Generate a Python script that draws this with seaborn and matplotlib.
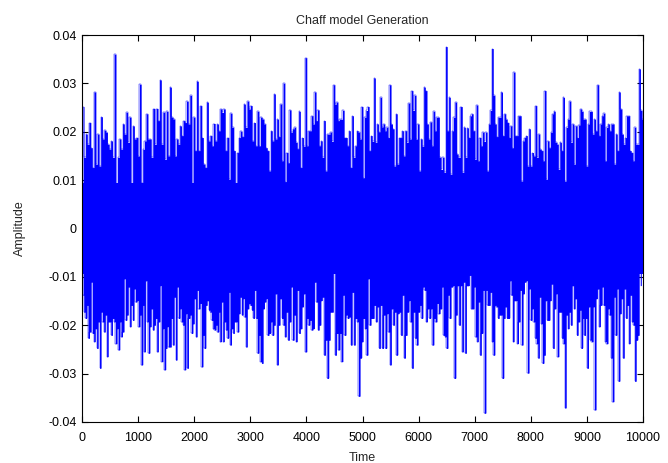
import matplotlib
matplotlib.use("Agg")
import matplotlib.pyplot as plt
import numpy as np
import seaborn as sns

# amplitude, in thousandths, peaks and notches of the
# upper and lower edge of the signal, three stretches each
upper_a = [25.2, 14.7, 19.5, 17.4, 21.9, 16.7, 12.6, 28.2, 13.3, 19.5, 12.9, 23.1, 18.5, 20.3, 19.9, 17.4,
           16.4, 18.1, 14.7, 36.0, 6.4, 14.7, 18.5, 16.4, 21.6, 19.5, 24.0, 17.8, 23.0, 8.4, 21.2, 18.5,
           18.8, 15.0, 29.8, 9.5, 16.4, 18.1, 23.7, 18.5, 18.5, 14.7, 24.8, 17.4, 24.8, 22.3, 30.7, 17.4,
           24.0, 14.3, 24.2, 15.0, 29.2, 23.0, 22.6, 15.0, 18.5, 17.4, 21.2, 19.2, 22.3, 21.9, 26.3, 21.6,
           27.5, 8.8, 23.0, 16.1, 30.4, 16.1, 25.4, 18.8, 13.3, 12.6, 26.1, 18.1, 19.2, 17.1, 21.7, 18.1,
           21.6, 20.2, 24.7, 24.0, 24.7, 16.1, 18.8, 10.2, 23.8, 20.9, 16.1, 8.4, 15.7, 18.8, 20.1, 19.0,
           25.7, 20.9, 26.3, 24.7, 25.4, 18.1, 21.9, 17.1, 24.2, 17.1, 23.0, 22.6, 21.6, 16.7, 16.1, 11.9]
upper_b = [20.2, 18.1, 27.8, 18.5, 22.6, 19.0, 25.7, 14.0, 30.0, 9.7, 15.7, 13.6, 24.5, 19.9, 20.6, 20.9,
           17.8, 16.5, 24.2, 12.6, 18.8, 17.0, 35.3, 17.1, 20.2, 20.2, 23.3, 21.6, 28.2, 22.3, 24.5, 17.1,
           18.1, 14.7, 22.3, 11.9, 19.5, 19.5, 19.9, 18.0, 29.7, 25.7, 26.1, 22.3, 22.6, 22.6, 24.4, 18.8,
           18.8, 17.1, 20.2, 12.6, 23.3, 14.7, 17.1, 20.2, 19.9, 18.5, 25.2, 10.5, 23.0, 24.4, 25.2, 16.1,
           19.2, 18.0, 31.1, 17.8, 21.6, 20.0, 27.1, 21.0, 21.6, 20.2, 20.9, 18.8, 29.7, 21.6, 20.6, 12.9,
           23.7, 13.3, 18.8, 18.8, 20.2, 15.0, 20.2, 17.8, 25.9, 18.5, 28.5, 24.4, 27.5, 18.5, 21.6, 11.9,
           18.5, 17.0, 29.2, 28.5, 21.6, 18.5, 22.0, 17.1, 24.2, 20.2, 23.0, 23.0, 14.7, 12.2, 14.7, 11.6,
           37.6, 20.2, 27.1, 11.2, 20.2, 23.0, 26.1, 15.4, 14.7]
upper_c = [25.2, 11.6, 20.9, 14.7, 20.8, 18.8, 23.3, 23.7, 20.2, 14.3, 25.5, 14.0, 18.8, 17.1, 19.9, 18.0,
           19.9, 11.9, 21.6, 24.4, 37.2, 27.5, 21.6, 19.0, 23.0, 23.0, 28.2, 19.2, 23.7, 22.6, 21.9, 18.8,
           21.2, 16.7, 32.3, 19.2, 19.2, 23.3, 23.3, 9.8, 18.1, 18.8, 19.2, 12.9, 20.6, 12.9, 15.7, 15.0,
           25.4, 14.7, 19.5, 16.4, 16.1, 14.0, 28.5, 10.2, 18.1, 16.7, 19.9, 23.7, 24.2, 17.8, 17.4, 12.2,
           17.8, 16.1, 27.1, 9.8, 20.9, 22.6, 26.3, 17.8, 21.6, 13.3, 21.2, 18.8, 21.4, 24.7, 24.2, 22.6,
           22.6, 12.9, 21.6, 24.2, 24.2, 19.5, 22.6, 20.2, 29.7, 19.2, 21.6, 23.3, 23.8, 14.0, 20.9, 21.6,
           20.2, 21.6, 21.6, 13.3, 19.5, 16.1, 28.2, 24.7, 19.5, 17.4, 18.8, 23.3, 23.3, 16.1, 15.7, 14.0,
           20.9, 17.4, 17.4, 33.0, 24.4, 22.6]

lower_a = [-13.8, -17.3, -18.6, -15.9, -22.7, -21.4, -11.1, -21.7, -23.4, -20.7, -24.8, -19.3, -28.9, -17.3,
           -19.3, -21.4, -17.9, -26.5, -19.3, -19.3, -22.1, -18.6, -19.3, -23.8, -20.7, -25.1, -19.3, -22.4,
           -21.4, -10.4, -19.0, -17.9, -12.1, -20.3, -15.9, -19.0, -12.5, -15.2, -14.9, -20.3, -17.9, -28.2,
           -15.9, -25.5, -10.8, -19.3, -25.8, -20.3, -16.6, -21.0, -20.0, -18.6, -25.5, -19.3, -11.8, -27.5,
           -20.7, -29.2, -24.8, -20.3, -24.5, -24.5, -18.6, -24.1, -14.2, -27.2, -12.1, -18.6, -16.6, -19.3,
           -20.0, -29.2, -17.6, -28.9, -18.6, -17.9, -21.7, -19.7, -14.5, -22.4, -12.8, -16.6, -15.5, -28.6,
           -22.1, -24.8, -15.9, -14.9, -16.9, -17.3, -19.0, -20.7, -21.0, -20.0, -21.4, -17.3, -23.4, -15.2,
           -23.4, -19.3, -21.0, -22.7, -13.2, -24.1, -20.7, -21.7, -19.3, -19.3, -21.4, -17.6, -14.2, -17.9,
           -14.5, -18.3, -24.5, -16.6, -15.5, -15.9, -16.9, -18.6, -12.8, -18.6, -25.8, -22.1, -27.5, -27.9,
           -16.6, -15.2, -14.5, -22.1]
lower_b = [-21.7, -19.3, -22.1, -20.0, -13.5, -28.2, -20.0, -14.5, -18.6, -20.0, -22.4, -17.3, -23.1, -19.3,
           -12.1, -23.1, -17.9, -23.4, -12.8, -21.7, -20.7, -16.2, -13.5, -25.5, -18.6, -20.0, -19.0, -21.0,
           -20.7, -11.1, -15.2, -21.0, -20.0, -14.9, -14.2, -26.2, -23.1, -31.0, -23.1, -17.3, -17.3, -7.0,
           -26.2, -21.7, -25.1, -21.7, -27.5, -13.8, -22.1, -17.9, -18.6, -18.3, -24.1, -13.2, -24.1, -18.6,
           -19.3, -34.7, -26.8, -23.4, -18.6, -20.7, -26.2, -10.4, -20.0, -18.6, -18.6, -15.9, -19.3, -16.2,
           -24.8, -15.9, -24.8, -17.9, -24.8, -17.6, -21.4, -28.2, -16.6, -20.0, -17.3, -26.2, -17.6, -17.3,
           -22.1, -13.8, -26.8, -22.1, -17.3, -14.9, -19.3, -28.9, -17.3, -22.7, -24.1, -17.3, -15.9, -18.6,
           -12.1, -12.8, -19.3, -16.6, -18.6, -16.6, -24.1, -18.6, -19.3, -15.5, -17.6, -16.6, -12.1, -22.1,
           -22.4, -24.8, -13.8, -18.6, -12.1, -11.8, -31.0, -17.9, -11.8]
lower_c = [-20.0, -11.8, -25.5, -11.1, -25.8, -11.8, -11.8, -9.7, -16.6, -16.6, -12.1, -22.4, -23.4, -15.2,
           -26.2, -21.7, -12.8, -38.2, -12.8, -15.9, -15.9, -13.2, -23.4, -26.2, -15.9, -16.2, -18.6, -17.9,
           -17.9, -31.0, -18.6, -16.2, -18.6, -18.6, -10.8, -13.8, -23.4, -14.9, -14.9, -23.8, -19.3, -12.8,
           -24.1, -13.5, -11.1, -10.8, -29.9, -12.5, -19.0, -16.6, -19.3, -22.7, -23.8, -26.8, -14.2, -19.7,
           -27.9, -26.2, -14.9, -19.0, -19.0, -14.9, -11.5, -24.8, -16.6, -13.5, -26.5, -17.3, -17.3, -22.7,
           -23.8, -37.1, -17.9, -20.7, -17.3, -20.0, -11.8, -16.6, -14.5, -22.1, -19.3, -16.9, -24.8, -18.6,
           -22.1, -18.6, -28.9, -16.2, -23.1, -23.4, -16.2, -37.5, -14.5, -12.5, -20.3, -15.9, -12.1, -15.9,
           -23.4, -23.8, -16.6, -17.9, -26.8, -35.8, -14.2, -22.1, -12.5, -31.6, -17.6, -14.5, -26.8, -12.5,
           -18.6, -15.9, -23.8, -13.8, -19.3, -20.0, -31.6, -23.1, -22.1, -9.0, -11.8]

# time span covered by each stretch
upper_spans = [(18, 3346), (3376, 6717), (6763, 9995)]
lower_spans = [(18, 3316), (3346, 6702), (6732, 9970)]

x_ticks = list(range(0, 10001, 1000))
y_ticks = [-0.04, -0.03, -0.02, -0.01, 0, 0.01, 0.02, 0.03, 0.04]
y_labels = ["-0.04", "-0.03", "-0.02", "-0.01", "0", "0.01", "0.02", "0.03", "0.04"]


def build(parts, spans):
    t = np.concatenate([np.linspace(a, b, len(p)) for p, (a, b) in zip(parts, spans)])
    v = np.concatenate([np.asarray(p) for p in parts]) / 1000.0
    return t, v


t_up, v_up = build([upper_a, upper_b, upper_c], upper_spans)
t_lo, v_lo = build([lower_a, lower_b, lower_c], lower_spans)

sns.set_style("ticks")
plt.rcParams["font.family"] = ["Liberation Sans", "DejaVu Sans"]

fig = plt.figure(figsize=(6.68, 4.63), dpi=100)
ax = fig.add_axes([0.1228, 0.0886, 0.8398, 0.8358])

blue = "#0000ff"
# solid body of the signal, then its jagged edges as thin strokes
ax.fill_between(t_up, 0, v_up, step="mid", color=blue, lw=0)
ax.fill_between(t_lo, v_lo, 0, step="mid", color=blue, lw=0)
ax.axhspan(-0.0095, 0.0095, color=blue, lw=0, zorder=1)
sns.lineplot(x=t_up, y=v_up, ax=ax, color=blue, lw=0.35, estimator=None, sort=False,
             drawstyle="steps-mid")
sns.lineplot(x=t_lo, y=v_lo, ax=ax, color=blue, lw=0.35, estimator=None, sort=False,
             drawstyle="steps-mid")

ax.set_xlim(0, 10000)
ax.set_ylim(-0.04, 0.04)
ax.set_xticks(x_ticks)
ax.set_xticklabels([str(v) for v in x_ticks])
ax.set_yticks(y_ticks)
ax.set_yticklabels(y_labels)
ax.tick_params(direction="in", length=4, width=0.8, top=True, right=True,
               labelsize=9, colors="black")
ax.tick_params(axis="x", pad=7)
ax.tick_params(axis="y", pad=4)
for s in ax.spines.values():
    s.set_visible(True)
    s.set_color("black")
    s.set_linewidth(0.8)
    s.set_zorder(5)

ax.set_title("Chaff model Generation", fontsize=9, pad=8)
ax.set_xlabel("Time", fontsize=9, labelpad=6)
ax.set_ylabel("Amplitude", fontsize=9, labelpad=16)

fig.savefig("out.png", dpi=100)
